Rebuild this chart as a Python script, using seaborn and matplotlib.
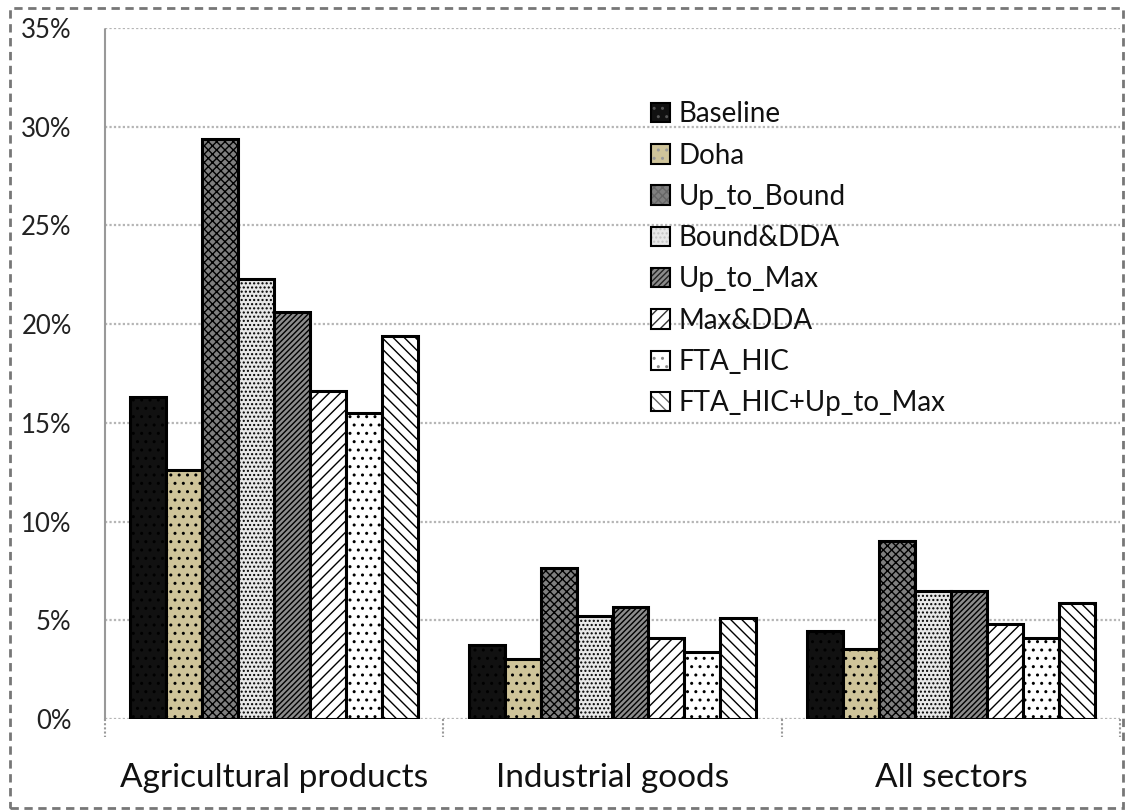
import matplotlib
matplotlib.use("Agg")
import matplotlib.pyplot as plt
import matplotlib.patches as mpatches
import seaborn as sns
import pandas as pd
from matplotlib.ticker import FuncFormatter, MultipleLocator

categories = ["Agricultural products", "Industrial goods", "All sectors"]
scenarios = ["Baseline", "Doha", "Up_to_Bound", "Bound&DDA", "Up_to_Max",
             "Max&DDA", "FTA_HIC", "FTA_HIC+Up_to_Max"]
agri = [16.3, 12.6, 29.4, 22.3, 20.6, 16.6, 15.5, 19.4]
indu = [3.75, 3.05, 7.65, 5.2, 5.65, 4.1, 3.4, 5.1]
allsec = [4.45, 3.55, 9.0, 6.5, 6.5, 4.8, 4.1, 5.9]

colors = ["#111111", "#cfc49a", "#7f7f7f", "#e8e8e8", "#8c8c8c",
          "#ffffff", "#ffffff", "#ffffff"]
hatches = ["..", "..", "xxxx", "....", "//////", "///", "..", "\\\\\\"]
hatch_colors = ["#555555", "#999999", "#666666", "#c4c4c4", "#222222",
                "#333333", "#888888", "#666666"]

rows = []
for cat, vals in zip(categories, [agri, indu, allsec]):
    for s, v in zip(scenarios, vals):
        rows.append({"Sector": cat, "Scenario": s, "Value": v})
df = pd.DataFrame(rows)

sns.set_style("white")
plt.rcParams["font.family"] = ["Lato", "DejaVu Sans"]

fig = plt.figure(figsize=(11.25, 8.1), dpi=100)
ax = fig.add_axes([105/1125, 1 - 719/810, (1120-105)/1125, (719-28)/810])

sns.barplot(data=df, x="Sector", y="Value", hue="Scenario", order=categories,
            hue_order=scenarios, palette=colors, width=0.85, ax=ax,
            edgecolor="black", linewidth=2.2, saturation=1, legend=False,
            zorder=3)

for i, cont in enumerate(ax.containers):
    for bar in cont:
        bar.set_hatch(hatches[i])
        bar.set_facecolor(colors[i])
        bar._hatch_color = matplotlib.colors.to_rgba(hatch_colors[i])
        bar.set_edgecolor("black")

ax.set_ylim(0, 35)
ax.yaxis.set_major_locator(MultipleLocator(5))
ax.yaxis.set_major_formatter(FuncFormatter(lambda v, p: f"{int(round(v))}%"))
ax.grid(axis="y", color="#b5b5b5", linestyle=(0, (1, 1)), linewidth=1.6, zorder=0)
ax.set_axisbelow(True)
for side in ["top", "right", "bottom"]:
    ax.spines[side].set_visible(False)
ax.spines["left"].set_color("#999999")
ax.spines["left"].set_linestyle((0, (1, 1)))
ax.spines["left"].set_linewidth(1.5)
ax.set_xlabel("")
ax.set_ylabel("")
ax.tick_params(axis="y", labelsize=18.5, length=0, pad=24, colors="#222222")
ax.tick_params(axis="x", labelsize=24, length=0, pad=32, colors="#111111")
ax.set_xlim(-0.5, 2.5)
# category separator ticks
for xs in [-0.5, 0.5, 1.5, 2.5]:
    ax.plot([xs, xs], [0, -0.9], color="#999999", lw=1.5, clip_on=False,
            linestyle=(0, (1, 1)))

handles = []
for i, s in enumerate(scenarios):
    p = mpatches.Patch(facecolor=colors[i], edgecolor="black", hatch=hatches[i],
                       linewidth=1.5, label=s)
    p._hatch_color = matplotlib.colors.to_rgba(hatch_colors[i])
    handles.append(p)
leg = ax.legend(handles=handles, loc="upper left", bbox_to_anchor=(0.527, 0.91),
                frameon=False, fontsize=20, handlelength=0.7, handleheight=0.7,
                handletextpad=0.3, labelspacing=0.55, borderaxespad=0)
for t in leg.get_texts():
    t.set_color("#111111")

border = mpatches.Rectangle((10/1125, 0.002), 1 - 12/1125, 1 - 10/810,
                            transform=fig.transFigure, fill=False,
                            edgecolor="#777777", linestyle=(0, (3, 2)),
                            linewidth=2)
fig.add_artist(border)

fig.savefig("out.png", dpi=100)
